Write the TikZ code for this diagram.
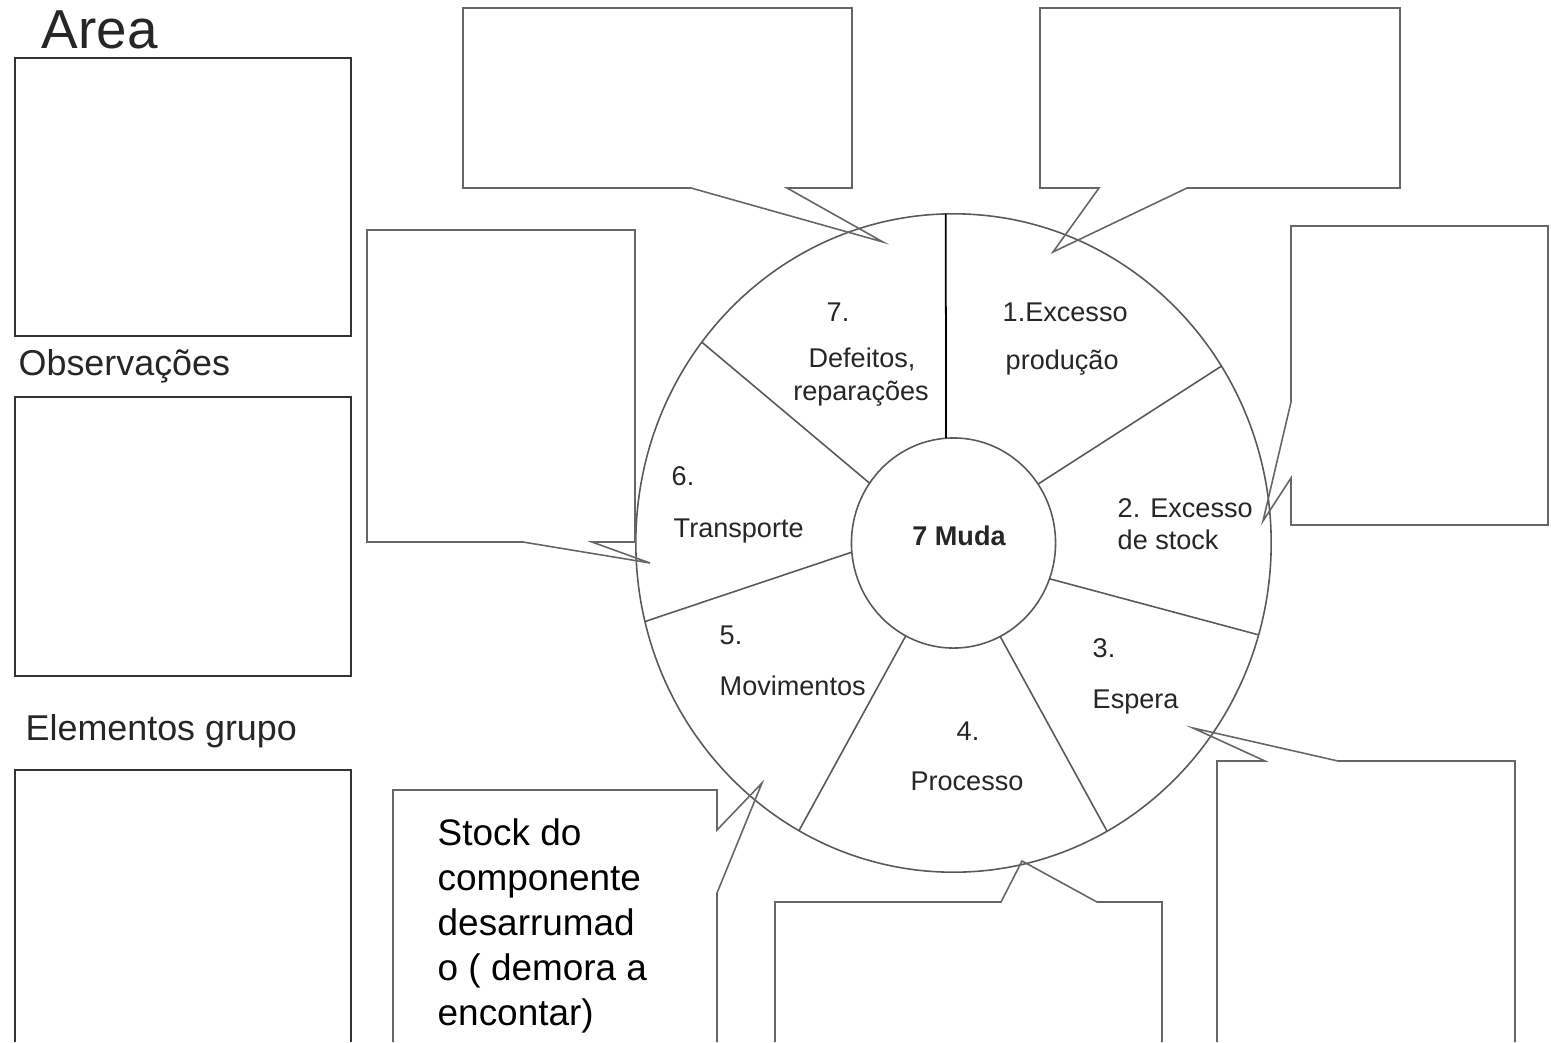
\documentclass[tikz,border=0pt]{standalone}
\usepackage{fontspec}
\setmainfont{Liberation Sans}
\usetikzlibrary{calc}
\usetikzlibrary{positioning}

\begin{document}
\begin{tikzpicture}[x=0.01cm,y=-0.01cm,
  box/.style={draw=black!80,line width=0.7pt},
  bubble/.style={draw=black!60,line width=0.45pt,line join=miter},
  wheel/.style={draw=black!65,line width=0.45pt},
  head/.style={inner sep=0pt,anchor=base west,text=black!85,font=\fontsize{10.2}{12}\selectfont},
  seg/.style={inner sep=0pt,anchor=base west,text=black!85,font=\fontsize{7.7}{9}\selectfont}]
\useasboundingbox (0,0) rectangle (1551,1042);
%\draw[red] (0,0) rectangle (1551,1042);
\path node[head,font=\fontsize{15.6}{18}\selectfont] (area) at (41,48) {Area};
\draw[box] (15,58) rectangle (351,336);
\path node[head] (obs) at (18,375) {Observações};
\draw[box] (15,397) rectangle (351,676);
\path node[head] (grp) at (25,740) {Elementos grupo};
\draw[box] (15,1042) |- (351,770) -- (351,1042);

% wheel
\coordinate (c) at (953.5,543);
\draw[wheel] (c) ellipse [x radius=3.175cm, y radius=3.29cm];
\draw[wheel] (c) ellipse [x radius=1.02cm, y radius=1.05cm];
\foreach \o/\i in {32.5/34.1,-16.2/-19.9,-61.1/-62.8,-119.1/-117.9,-166.2/-175,142.4/145.3}
  \draw[wheel] ($(c)+(\o:3.175cm and 3.29cm)$) -- ($(c)+(\i:1.02cm and 1.05cm)$);
\draw[black,line width=0.5pt] ($(c)+(91.4:3.175cm and 3.29cm)$) -- ($(c)+(94.2:1.02cm and 1.05cm)$);

% bubbles
\draw[bubble] (463,8) -- (852,8) -- (852,188) -- (787,188) -- (883,242) -- (691,188) -- (463,188) -- cycle;
\draw[bubble] (1040,8) -- (1400,8) -- (1400,188) -- (1187,188) -- (1053,252) -- (1099,188) -- (1040,188) -- cycle;
\draw[bubble] (1291,226) -- (1548,226) -- (1548,525) -- (1291,525) -- (1291,478) -- (1263,521) -- (1291,402) -- cycle;
\draw[bubble] (367,230) -- (635,230) -- (635,542) -- (592,542) -- (650,563) -- (523,542) -- (367,542) -- cycle;
\draw[bubble] (393,1042) -- (393,790) -- (717,790) -- (717,830) -- (762,783) -- (717,893) -- (717,1042);
\draw[bubble] (775,1042) -- (775,902) -- (1001,902) -- (1022,861) -- (1097,902) -- (1162,902) -- (1162,1042);
\draw[bubble] (1217,1042) -- (1217,761) -- (1265,761) -- (1193,728) -- (1338,761) -- (1515,761) -- (1515,1042);

% segment texts
\path node[seg] (n7) at (826,321) {7.};
\path node[seg,anchor=base] (t7a) at (862,367) {Defeitos,};
\path node[seg,anchor=base] (t7b) at (861,400) {reparações};
\path node[seg] (n1) at (1002,321) {1.Excesso};
\path node[seg] (t1) at (1005,369) {produção};
\path node[seg] (n6) at (671,485) {6.};
\path node[seg] (t6) at (673,537) {Transporte};
\path node[seg,anchor=base,font=\fontsize{7.7}{9}\selectfont\bfseries] (muda) at (959,545) {7 Muda};
\path node[seg] (n2) at (1117,517) {2. Excesso};
\path node[seg] (t2) at (1117,549) {de stock};
\path node[seg] (n5) at (719,644) {5.};
\path node[seg] (t5) at (719,695) {Movimentos};
\path node[seg] (n3) at (1092,657) {3.};
\path node[seg] (t3) at (1092,708) {Espera};
\path node[seg] (n4) at (956,740) {4.};
\path node[seg,anchor=base] (t4) at (967,790) {Processo};

\foreach \t [count=\k] in {Stock do,componente,desarrumad,o ( demora a,encontar)}
  \path node[seg,text=black,font=\fontsize{10.5}{12}\selectfont] (s\k) at (437,800+45*\k) {\t};
\end{tikzpicture}
\end{document}
